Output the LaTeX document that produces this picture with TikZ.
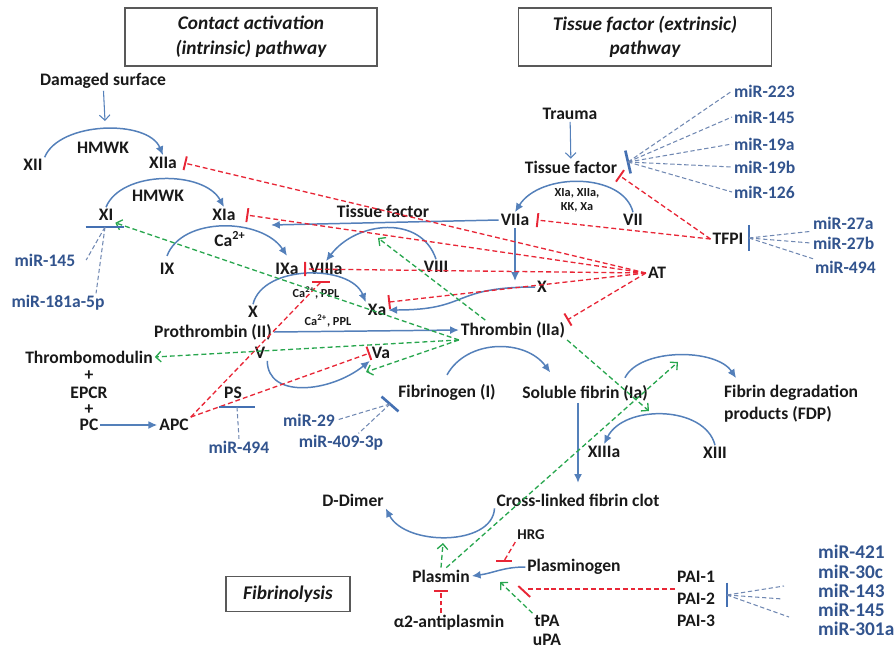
\documentclass[tikz,border=0pt]{standalone}
\usepackage{fontspec}
\setmainfont{Carlito}
\usetikzlibrary{arrows.meta}

\definecolor{txtblack}{RGB}{25,25,25}
\definecolor{mirblue}{RGB}{50,84,142}
\definecolor{actblue}{RGB}{84,128,186}
\definecolor{barblue}{RGB}{68,112,178}
\definecolor{inhred}{RGB}{232,38,54}
\definecolor{progreen}{RGB}{40,166,78}
\definecolor{mirdash}{RGB}{112,136,178}

\begin{document}
\begin{tikzpicture}[x=0.02cm,y=-0.02cm,
        lbl/.style={font=\bfseries\fontsize{10}{12}\selectfont,text=txtblack,inner sep=1pt},
        sml/.style={font=\bfseries\fontsize{7}{8}\selectfont,text=txtblack,inner sep=1pt,align=center},
        mir/.style={font=\bfseries\fontsize{10}{12}\selectfont,text=mirblue,inner sep=1pt},
        mirbig/.style={font=\bfseries\fontsize{11}{12}\selectfont,text=mirblue,inner sep=1pt,anchor=west},
        ttl/.style={draw=black!65,line width=0.8pt,font=\bfseries\itshape\fontsize{11}{14}\selectfont,align=center,text=txtblack},
        act/.style={draw=actblue,line width=0.85pt,-{Latex[length=5pt,width=4.5pt]}},
        lead/.style={draw=actblue,line width=0.6pt,-{Straight Barb[length=3pt,width=6pt]}},
        inh/.style={draw=inhred,line width=0.75pt,dash pattern=on 2.8pt off 1.7pt,-{Bar[width=8pt,line width=1.1pt]}},
        inhline/.style={draw=inhred,line width=0.75pt,dash pattern=on 2.8pt off 1.7pt},
        ibar/.style={draw=inhred,line width=1.1pt},
        pro/.style={draw=progreen,line width=0.75pt,dash pattern=on 2.8pt off 1.7pt,-{Straight Barb[length=3pt,width=6pt]}},
        mline/.style={draw=mirdash,line width=0.6pt,dash pattern=on 2.5pt off 1.5pt},
        mbar/.style={draw=barblue,line width=1.5pt}]

        % \draw [help lines] (0,0) grid (896,650);
        \useasboundingbox (0,0) rectangle (896,650);

        \path   (251,37) node (intr) [ttl,minimum width=5.04cm,minimum height=1.16cm] {Contact activation\\(intrinsic) pathway}
                (645,37) node (extr) [ttl,minimum width=5.06cm,minimum height=1.16cm] {Tissue factor (extrinsic)\\pathway}
                (288,594) node (fibl) [ttl,minimum width=2.48cm,minimum height=0.7cm] {Fibrinolysis};

        \path   (103,81) node (dmg) [lbl] {Damaged surface}
                (33,165) node (xii) [lbl] {XII}
                (103,148) node (hmwka) [lbl] {HMWK}
                (163,163) node (xiia) [lbl] {XIIa}
                (158,196) node (hmwkb) [lbl] {HMWK}
                (106,215) node (xi) [lbl] {XI}
                (224,215) node (xia) [lbl] {XIa}
                (230,239) node (caa) [lbl] {Ca\textsuperscript{2+}}
                (167,269) node (ix) [lbl] {IX}
                (287,269) node (ixa) [lbl] {IXa}
                (326,269) node (viiia) [lbl] {VIIIa}
                (436,267) node (viii) [lbl] {VIII}
                (383,211) node (tfl) [lbl] {Tissue factor}
                (316,293) node (cpa) [sml] {Ca\textsuperscript{2+}, PPL}
                (253,312) node (xl) [lbl] {X}
                (377,310) node (xa) [lbl] {Xa}
                (542,287) node (xr) [lbl] {X}
                (213,332) node (proth) [lbl] {Prothrombin (II)}
                (328,321) node (cpb) [sml] {Ca\textsuperscript{2+}, PPL}
                (513,330) node (thr) [lbl] {Thrombin (IIa)}
                (260,353) node (v) [lbl] {V}
                (381,353) node (va) [lbl] {Va}
                (89,357) node (tm) [lbl] {Thrombomodulin}
                (89,376) node (plusa) [lbl] {+}
                (89,393) node (epcr) [lbl] {EPCR}
                (89,410) node (plusb) [lbl] {+}
                (89,425) node (pc) [lbl] {PC}
                (174,425) node (apc) [lbl] {APC}
                (233,393) node (ps) [lbl] {PS}
                (447,392) node (fbg) [lbl] {Fibrinogen (I)}
                (585,393) node (sfb) [lbl] {Soluble fibrin (Ia)}
                (722,404) node (fdp) [lbl,anchor=west,align=left,font=\bfseries\fontsize{10}{12.5}\selectfont] {Fibrin degradation\\products (FDP)}
                (604,452) node (xiiia) [lbl] {XIIIa}
                (715,453) node (xiii) [lbl] {XIII}
                (353,500) node (ddim) [lbl] {D-Dimer}
                (578,500) node (clot) [lbl] {Cross-linked fibrin clot}
                (531,535) node (hrg) [lbl,font=\bfseries\fontsize{8.5}{10}\selectfont] {HRG}
                (574,567) node (plg) [lbl] {Plasminogen}
                (441,576) node (pls) [lbl] {Plasmin}
                (449,623) node (a2ap) [lbl] {α2-antiplasmin}
                (547,621) node (tpa) [lbl] {tPA}
                (547,640) node (upa) [lbl] {uPA}
                (696,577) node (paia) [lbl] {PAI-1}
                (696,599) node (paib) [lbl] {PAI-2}
                (696,621) node (paic) [lbl] {PAI-3}
                (570,114) node (trauma) [lbl] {Trauma}
                (571,167) node (tfr) [lbl] {Tissue factor}
                (577,200) node (kk) [sml] {XIa, XIIa,\\KK, Xa}
                (515,220) node (viia) [lbl] {VIIa}
                (633,220) node (vii) [lbl] {VII}
                (728,239) node (tfpi) [lbl] {TFPI}
                (657,273) node (antithr) [lbl] {AT};

        \path   (45,260) node (mxia) [mir] {miR-145}
                (58,303) node (mxib) [mir] {miR-181a-5p}
                (239,447) node (mps) [mir] {miR-494}
                (309,420) node (mfga) [mir] {miR-29}
                (341,443) node (mfgb) [mir] {miR-409-3p}
                (732,91) node (mtfa) [mir,anchor=west] {miR-223}
                (732,117) node (mtfb) [mir,anchor=west] {miR-145}
                (732,144) node (mtfc) [mir,anchor=west] {miR-19a}
                (732,167) node (mtfd) [mir,anchor=west] {miR-19b}
                (732,192) node (mtfe) [mir,anchor=west] {miR-126}
                (811,223) node (mtpa) [mir,anchor=west] {miR-27a}
                (811,243) node (mtpb) [mir,anchor=west] {miR-27b}
                (813,267) node (mtpc) [mir,anchor=west] {miR-494}
                (816,552) node (mpaa) [mirbig] {miR-421}
                (816,572) node (mpab) [mirbig] {miR-30c}
                (816,591) node (mpac) [mirbig] {miR-143}
                (816,610) node (mpad) [mirbig] {miR-145}
                (816,629) node (mpae) [mirbig] {miR-301a};

        \coordinate (dmgtip) at (105,121);
        \coordinate (xtip) at (515,281);
        \coordinate (ixtip) at (271,225);
        \coordinate (viiitip) at (378,238);
        \coordinate (vatip) at (366,372);
        \coordinate (xiiitip) at (649,411);
        \coordinate (ddtip) at (443,543);
        \coordinate (fdptip) at (678,362);
        \coordinate (plgtip) at (500,582);
        \coordinate (hrgtip) at (504,561);
        \coordinate (paitip) at (528,589);
        \coordinate (xibar) at (105,227);
        \coordinate (tfbar) at (628,162);
        \coordinate (tpbar) at (749,238);
        \coordinate (psbar) at (237,407);
        \coordinate (fgbar) at (390,404);
        \coordinate (pabar) at (727,595);
        \coordinate (pma) at (784,586);
        \coordinate (pmb) at (783,599);
        \coordinate (pmc) at (789,617);

        % activation (blue)
        \draw[lead] (dmg) -- (dmgtip);
        \draw[lead] (trauma) -- (tfr);
        \draw[act] (xii.north east) .. controls +(15,-36) and +(-15,-36) .. (xiia.north);
        \draw[act] (xi.north) .. controls +(15,-37) and +(-20,-37) .. (xia.north);
        \draw[act] ([yshift=3pt]ix.north) .. controls +(15,-40) and +(-25,-38) .. ([yshift=3pt]ixa.north);
        \draw[act] (viii.north) .. controls +(-15,-45) and +(30,-40) .. (viiia.north);
        \draw[act] (xl.north) .. controls +(10,-40) and +(-15,-38) .. (xa.north west);
        \draw[act] (xr.west) .. controls +(-85,0) and +(82,0) .. (xa.east);
        \draw[act] (v.south east) .. controls +(0,38) and +(-40,32) .. (va.south west);
        \draw[act] ([yshift=4pt]fbg.north) .. controls +(20,-36) and +(-25,-34) .. ([yshift=6pt]sfb.164);
        \draw[act] ([yshift=3pt]sfb.14) .. controls +(15,-30) and +(-20,-30) .. ([shift={(8pt,3pt)}]fdp.north west);
        \draw[act] (xiii.north) .. controls +(-10,-40) and +(20,-40) .. (xiiia.north);
        \draw[act] (vii.north) .. controls +(-10,-40) and +(25,-40) .. (viia.north);
        \draw[act] (clot.south west) .. controls +(-2,38) and +(20,38) .. (ddim.south east);
        \draw[act] (plg.west) .. controls +(-22,0) and +(22,-3) .. (pls.east);
        \draw[act] (viia) -- (xtip);
        \draw[act] (viia.west) -- (ixtip);
        \draw[act] (proth.east) -- (thr.west);
        \draw[act] (pc) -- (apc);
        \draw[act] (clot.north |- sfb.south) -- ([yshift=5pt]clot.north);

        % inhibition (red)
        \draw[inh] (antithr.west) -- ([xshift=3pt]xiia.east);
        \draw[inh] (antithr.west) -- ([xshift=5pt]xia.east);
        \draw[inh] (antithr.west) -- ([xshift=2pt]ixa.east);
        \draw[inh] (antithr.west) -- (xa.north east);
        \draw[inh] (antithr.west) -- (thr.north east);
        \draw[inh] (tfpi.west) -- ([xshift=3pt]viia.east);
        \draw[inh] (tfpi.west) -- (tfr.south east);
        \draw[inhline] (apc.north east) -- ([shift={(-3pt,-3pt)}]viiia.south);
        \draw[ibar] ([shift={(-8pt,-3pt)}]viiia.south) -- ([shift={(2pt,-3pt)}]viiia.south);
        \draw[inh] (apc.north east) -- (va.west);
        \draw[inhline] (hrg.south west) -- (hrgtip);
        \draw[ibar] ([xshift=-4.5pt]hrgtip) -- ([xshift=4.5pt]hrgtip);
        \draw[inh] (pls.south |- a2ap.north) -- ([yshift=-3pt]pls.south);
        \draw[inhline] (paitip -| paia.west) -- (paitip);
        \draw[ibar] ([shift={(-5.5pt,1.7pt)}]paitip) -- ([shift={(1.2pt,-4.5pt)}]paitip);

        % thrombin and plasmin feedback (green)
        \draw[pro] (thr.south west) -- (xi.south east);
        \draw[pro] ([xshift=15pt]thr.north west) -- (viiitip);
        \draw[pro] (thr.south west) -- (tm.east);
        \draw[pro] (thr.south west) -- (vatip);
        \draw[pro] (thr.south east) -- (xiiitip);
        \draw[pro] (pls.north) -- (ddtip);
        \draw[pro] ([xshift=3pt]pls.north) -- (fdptip);
        \draw[pro] (tpa.north west) -- (plgtip);

        % microRNA targets
        \draw[mbar] ([xshift=-11pt]xibar) -- ([xshift=11pt]xibar);
        \draw[mline] (xibar) -- ([xshift=5pt]mxia.east);
        \draw[mline] (xibar) -- ([xshift=-6pt]mxib.north east);
        \draw[mbar] ([shift={(-1.5pt,6.5pt)}]tfbar) -- ([shift={(1.5pt,-6.5pt)}]tfbar);
        \draw[mline] (tfbar) -- (mtfa.west);
        \draw[mline] (tfbar) -- (mtfb.west);
        \draw[mline] (tfbar) -- (mtfc.west);
        \draw[mline] (tfbar) -- (mtfd.west);
        \draw[mline] (tfbar) -- (mtfe.west);
        \draw[mbar] ([yshift=7.5pt]tpbar) -- ([yshift=-7.5pt]tpbar);
        \draw[mline] (tpbar) -- (mtpa.south west);
        \draw[mline] (tpbar) -- (mtpb.west);
        \draw[mline] (tpbar) -- (mtpc.north west);
        \draw[mbar] ([xshift=-10.5pt]psbar) -- ([xshift=10.5pt]psbar);
        \draw[mline] (psbar) -- (mps.north);
        \draw[mbar] ([shift={(-4.8pt,4.2pt)}]fgbar) -- ([shift={(4.8pt,-4.2pt)}]fgbar);
        \draw[mline] (fgbar) -- (mfga.east);
        \draw[mline] (fgbar) -- ([xshift=10pt]mfgb.north);
        \draw[mbar] ([yshift=7pt]pabar) -- ([yshift=-7pt]pabar);
        \draw[mline] (pabar) -- (pma);
        \draw[mline] (pabar) -- (pmb);
        \draw[mline] (pabar) -- (pmc);

\end{tikzpicture}
\end{document}
